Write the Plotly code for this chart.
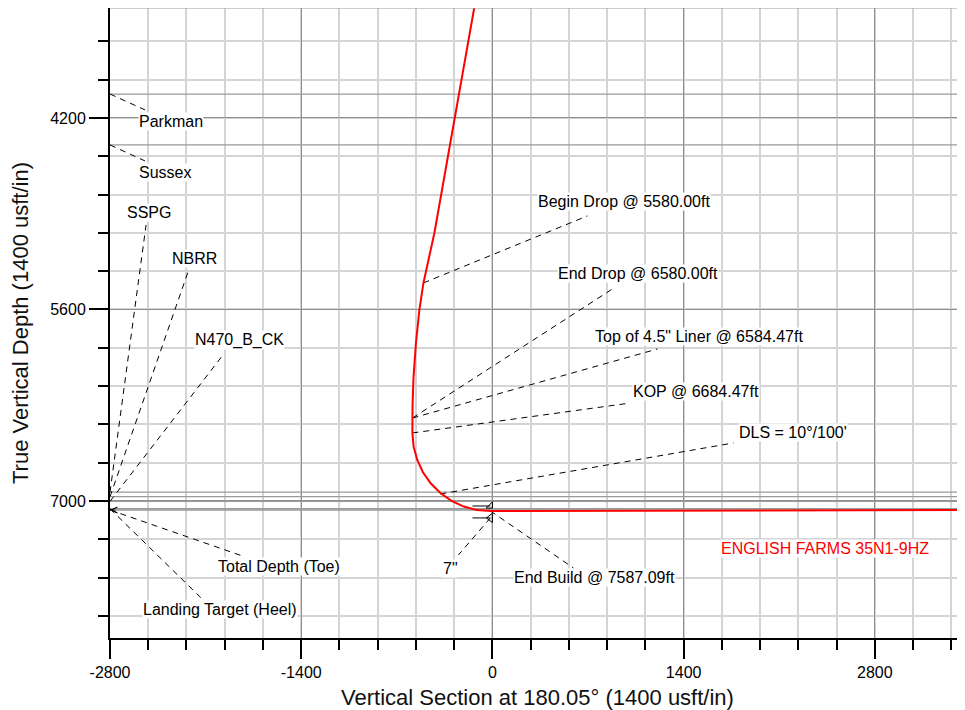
import plotly.graph_objects as go

# ---------------- data ----------------
# Well path (Vertical Section, TVD)
well_vs = [-110, -278, -425, -505, -535, -560, -578, -585, -586, -586, -577, -551,
           -509, -452, -381, -300, -209, -113, -13, 1400, 3600]
well_tvd = [3264, 4200, 5041, 5406, 5604, 5845, 6100, 6300, 6394, 6503, 6603, 6699,
            6790, 6871, 6942, 6999, 7041, 7067, 7074, 7070, 7065]
well_name = "ENGLISH FARMS 35N1-9HZ"
well_label_vs = 2438
well_label_tvd = 7344

# Formations
form_names = ["Parkman", "Sussex", "SSPG", "NBRR", "N470_B_CK",
              "Landing Target (Heel)", "Total Depth (Toe)"]
form_tvd = [4025, 4397, 6936, 6969, 7003, 7057, 7066]
form_leader_vs = [-2544, -2544, -2536, -2229, -1973, -2126, -1811]
form_leader_tvd = [4141, 4514, 4982, 5326, 5933, 7716, 7409]
form_label_vs = [-2350, -2397, -2518, -2178, -1852, -1998, -1566]
form_label_tvd = [4229, 4595, 4894, 5231, 5823, 7790, 7482]
form_arrow = [False, False, False, False, False, False, True]

# Well-path annotations
ann_text = ["Begin Drop @ 5580.00ft", "End Drop @ 6580.00ft",
            "Top of 4.5\" Liner @ 6584.47ft", "KOP @ 6684.47ft",
            "DLS = 10°/100'", "End Build @ 7587.09ft", "7\""]
ann_start_vs = [-505, -586, -586, -586, -381, -15, -15]
ann_start_tvd = [5406, 6394, 6394, 6503, 6949, 7073, 7124]
ann_end_vs = [696, 879, 1208, 1010, 1765, 593, -249]
ann_end_tvd = [4916, 5450, 5889, 6284, 6576, 7490, 7395]
ann_label_vs = [966, 1065, 1516, 1494, 2204, 750, -307]
ann_label_tvd = [4814, 5340, 5801, 6203, 6496, 7563, 7497]

# 7" casing symbol
casing_vs = [-146, -15]
casing_tvd_upper = 7037
casing_tvd_lower = 7124

# Axes
x_range = [-2800, 3460]
y_range = [8002, 3396]
x_ticks = [-2800, -1400, 0, 1400, 2800]
y_ticks = [4200, 5600, 7000]

FONT = "Liberation Sans, Arial, sans-serif"

fig = go.Figure()

# formation lines (full width)
for name, t in zip(form_names, form_tvd):
    fig.add_trace(go.Scatter(x=x_range, y=[t, t], mode="lines",
                             line=dict(color="#9a9a9a", width=1.3),
                             hoverinfo="skip", showlegend=False))

# formation leader lines
lx, ly = [], []
for t, ev, et in zip(form_tvd, form_leader_vs, form_leader_tvd):
    lx += [x_range[0], ev, None]
    ly += [t, et, None]
# well annotation leaders
for sv, st, ev, et in zip(ann_start_vs, ann_start_tvd, ann_end_vs, ann_end_tvd):
    lx += [sv, ev, None]
    ly += [st, et, None]
fig.add_trace(go.Scatter(x=lx, y=ly, mode="lines",
                         line=dict(color="black", width=1, dash="6px,5px"),
                         hoverinfo="skip", showlegend=False, cliponaxis=False))

# casing symbol
fig.add_trace(go.Scatter(x=casing_vs, y=[casing_tvd_upper] * 2, mode="lines",
                         line=dict(color="black", width=1),
                         hoverinfo="skip", showlegend=False))
fig.add_trace(go.Scatter(x=casing_vs, y=[casing_tvd_lower] * 2, mode="lines",
                         line=dict(color="black", width=1),
                         hoverinfo="skip", showlegend=False))
fig.add_trace(go.Scatter(x=[casing_vs[1]], y=[casing_tvd_upper], mode="markers",
                         marker=dict(symbol="triangle-se-open", size=7,
                                     color="black", line=dict(width=1)),
                         hoverinfo="skip", showlegend=False))
fig.add_trace(go.Scatter(x=[casing_vs[1]], y=[casing_tvd_lower], mode="markers",
                         marker=dict(symbol="triangle-left-open", size=8,
                                     color="black", line=dict(width=1)),
                         hoverinfo="skip", showlegend=False))

# well path
fig.add_trace(go.Scatter(x=well_vs, y=well_tvd, mode="lines",
                         line=dict(color="#ff0000", width=2),
                         hoverinfo="skip", showlegend=False))

annotations = []
for name, lv, lt in zip(form_names, form_label_vs, form_label_tvd):
    annotations.append(dict(x=lv, y=lt, text=name, showarrow=False,
                            font=dict(family=FONT, size=16, color="black"),
                            bgcolor="white", borderpad=0))
for t, arr in zip(form_tvd, form_arrow):
    if arr:
        annotations.append(dict(x=x_range[0], y=t, ax=7, ay=0,
                                text="", showarrow=True, arrowhead=5, arrowsize=1.5,
                                arrowwidth=0.8, arrowcolor="black", standoff=0))
for txt, lv, lt in zip(ann_text, ann_label_vs, ann_label_tvd):
    annotations.append(dict(x=lv, y=lt, text=txt, showarrow=False,
                            font=dict(family=FONT, size=16, color="black"),
                            bgcolor="white", borderpad=0))
annotations.append(dict(x=well_label_vs, y=well_label_tvd, text=well_name, showarrow=False,
                        font=dict(family=FONT, size=16, color="#ff0000"),
                        bgcolor="white", borderpad=0))

axis_common = dict(
    ticks="outside", ticklen=19, tickwidth=2, tickcolor="black",
    showline=True, linecolor="black", linewidth=2,
    showgrid=True, gridcolor="#8f8f8f", gridwidth=1, zeroline=False,
    tickfont=dict(family=FONT, size=16, color="black"),
)

fig.update_layout(
    width=957, height=702,
    margin=dict(l=102, r=0, t=0, b=72),
    paper_bgcolor="white", plot_bgcolor="white",
    font=dict(family=FONT),
    annotations=annotations,
    xaxis=dict(range=x_range, tickmode="array", tickvals=x_ticks,
               ticktext=[str(v) for v in x_ticks],
               minor=dict(tickmode="linear", tick0=0, dtick=280, ticks="outside",
                          ticklen=10, tickwidth=1.5, tickcolor="black",
                          showgrid=True, gridcolor="#d4d4d4", gridwidth=1.5),
               title=dict(text="Vertical Section at 180.05° (1400 usft/in)",
                          font=dict(family=FONT, size=22, color="#111"), standoff=12),
               **axis_common),
    yaxis=dict(range=y_range, tickmode="array", tickvals=y_ticks,
               ticktext=[str(v) for v in y_ticks],
               minor=dict(tickmode="linear", tick0=0, dtick=280, ticks="outside",
                          ticklen=10, tickwidth=1.5, tickcolor="black",
                          showgrid=True, gridcolor="#d4d4d4", gridwidth=1.5),
               title=dict(text="True Vertical Depth (1400 usft/in)",
                          font=dict(family=FONT, size=22, color="#111"), standoff=16),
               **axis_common),
    shapes=[dict(type="line", xref="paper", yref="paper", x0=0, x1=1, y0=1, y1=1,
                 line=dict(color="#9a9a9a", width=1))],
)

fig.write_html("out.html")
